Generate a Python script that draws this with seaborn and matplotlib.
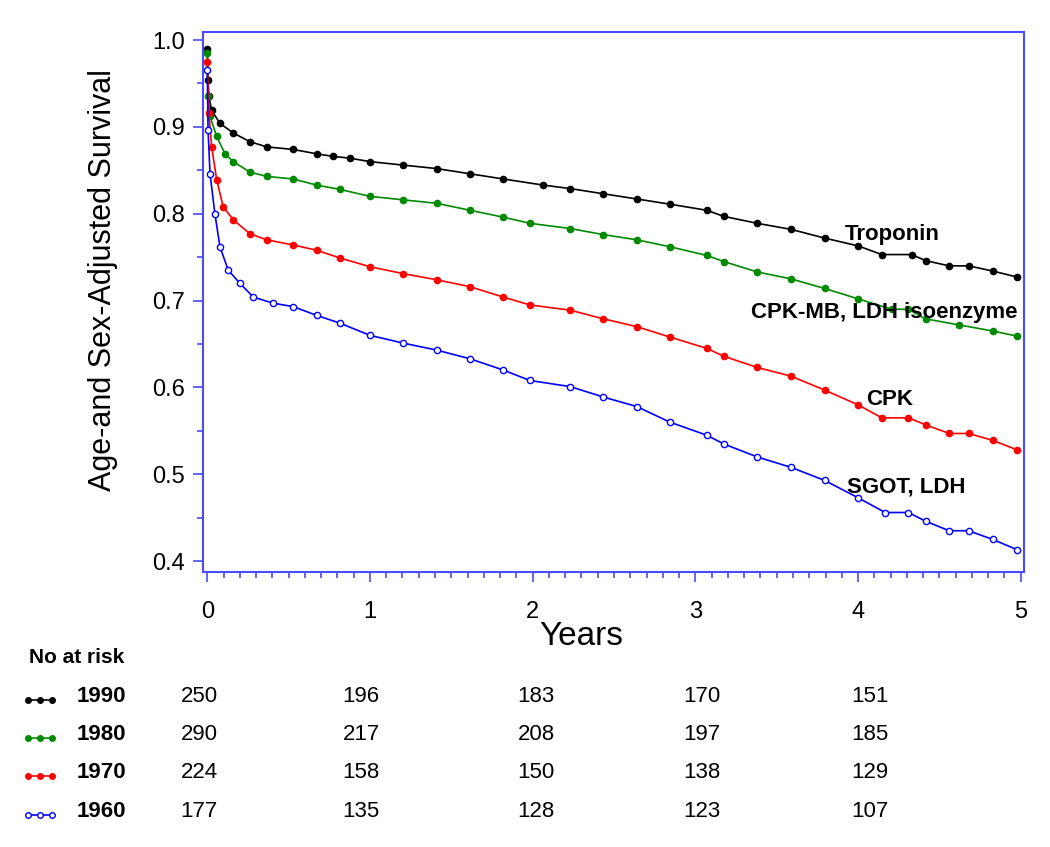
import numpy as np
import pandas as pd
import seaborn as sns
import matplotlib.pyplot as plt
from matplotlib.lines import Line2D
from matplotlib.ticker import MultipleLocator

# survival (years, survival)
t_1990 = [0, 0.005, 0.01, 0.027, 0.078, 0.16, 0.262, 0.365, 0.529, 0.672, 0.774, 0.877, 1.0, 1.205, 1.41, 1.615, 1.82,
          2.065, 2.23, 2.434, 2.64, 2.844, 3.07, 3.174, 3.38, 3.588, 3.794, 4.0, 4.146, 4.33, 4.415, 4.56, 4.68, 4.828, 4.98]
s_1990 = [0.990, 0.954, 0.935, 0.919, 0.904, 0.893, 0.883, 0.877, 0.874, 0.869, 0.866, 0.864, 0.860, 0.856, 0.852, 0.846, 0.840,
          0.833, 0.829, 0.823, 0.817, 0.811, 0.804, 0.797, 0.789, 0.782, 0.772, 0.763, 0.753, 0.753, 0.746, 0.740, 0.740, 0.734, 0.727]

t_1980 = [0, 0.005, 0.017, 0.058, 0.109, 0.16, 0.262, 0.365, 0.529, 0.672, 0.816, 1.0, 1.205, 1.41, 1.615, 1.82, 1.983,
          2.23, 2.434, 2.64, 2.844, 3.07, 3.174, 3.38, 3.588, 3.794, 4.0, 4.208, 4.31, 4.415, 4.62, 4.828, 4.98]
s_1980 = [0.985, 0.935, 0.912, 0.889, 0.869, 0.860, 0.848, 0.843, 0.840, 0.833, 0.828, 0.820, 0.816, 0.812, 0.804, 0.796, 0.789,
          0.783, 0.776, 0.770, 0.762, 0.752, 0.745, 0.733, 0.725, 0.714, 0.702, 0.690, 0.690, 0.679, 0.672, 0.665, 0.659]

t_1970 = [0, 0.01, 0.027, 0.058, 0.098, 0.16, 0.262, 0.365, 0.529, 0.672, 0.816, 1.0, 1.205, 1.41, 1.615, 1.82, 1.983,
          2.23, 2.434, 2.64, 2.844, 3.07, 3.174, 3.38, 3.588, 3.794, 4.0, 4.146, 4.31, 4.415, 4.56, 4.68, 4.828, 4.98]
s_1970 = [0.975, 0.916, 0.877, 0.839, 0.808, 0.793, 0.777, 0.770, 0.764, 0.758, 0.749, 0.739, 0.731, 0.724, 0.716, 0.704, 0.695,
          0.689, 0.679, 0.670, 0.658, 0.645, 0.636, 0.623, 0.613, 0.597, 0.580, 0.565, 0.565, 0.557, 0.547, 0.547, 0.539, 0.528]

t_1960 = [0, 0.005, 0.017, 0.047, 0.078, 0.129, 0.20, 0.283, 0.406, 0.529, 0.672, 0.816, 1.0, 1.205, 1.41, 1.615, 1.82, 1.983,
          2.23, 2.434, 2.64, 2.844, 3.07, 3.174, 3.38, 3.588, 3.794, 4.0, 4.167, 4.31, 4.415, 4.56, 4.68, 4.828, 4.98]
s_1960 = [0.965, 0.896, 0.846, 0.800, 0.762, 0.735, 0.720, 0.704, 0.697, 0.693, 0.683, 0.674, 0.660, 0.651, 0.643, 0.633, 0.620, 0.608,
          0.601, 0.589, 0.578, 0.560, 0.545, 0.535, 0.520, 0.508, 0.493, 0.473, 0.456, 0.456, 0.446, 0.435, 0.435, 0.425, 0.413]

cohorts = ["1990", "1980", "1970", "1960"]
test_names = ["Troponin", "CPK-MB, LDH isoenzyme", "CPK", "SGOT, LDH"]
colors = ["#000000", "#008a00", "#ff0000", "#0000ff"]

# number at risk at 0..4 years
risk_1990 = [250, 196, 183, 170, 151]
risk_1980 = [290, 217, 208, 197, 185]
risk_1970 = [224, 158, 150, 138, 129]
risk_1960 = [177, 135, 128, 123, 107]

sns.set_theme(style="white")
plt.rcParams["font.family"] = ["Liberation Sans", "DejaVu Sans"]
plt.rcParams["text.color"] = "black"
plt.rcParams["axes.labelcolor"] = "black"

W, H = 1050, 847
fig = plt.figure(figsize=(W / 100, H / 100), dpi=100)
ax = fig.add_axes([202.7 / W, 1 - 572 / H, (1024 - 202.7) / W, (572 - 31.7) / H])

curves = [(t_1990, s_1990), (t_1980, s_1980), (t_1970, s_1970), (t_1960, s_1960)]
for (t, s), c, yr in zip(curves, colors, cohorts):
    face = "white" if yr == "1960" else c
    sns.lineplot(x=t, y=s, ax=ax, color=c, lw=1.2, marker="o", markersize=4.5,
                 markerfacecolor=face, markeredgecolor=c, markeredgewidth=1.0,
                 sort=False, estimator=None)

ax.set_xlim(-0.028, 5.02)
ax.set_ylim(0.3875, 1.0096)
ax.xaxis.set_major_locator(MultipleLocator(1))
ax.xaxis.set_minor_locator(MultipleLocator(0.1))
ax.yaxis.set_major_locator(MultipleLocator(0.1))
ax.yaxis.set_minor_locator(MultipleLocator(0.05))
ax.yaxis.set_major_formatter(plt.FormatStrFormatter("%.1f"))
spine_c = "#4a4aff"
for sp in ax.spines.values():
    sp.set_color(spine_c)
    sp.set_linewidth(1.5)
ax.tick_params(which="both", direction="out", color=spine_c, width=1.2, labelsize=17, labelcolor="black")
ax.tick_params(which="major", length=7)
ax.tick_params(which="minor", length=4)
ax.tick_params(axis="x", which="both", bottom=True, pad=14)
ax.tick_params(axis="y", which="both", left=True, pad=6)
ax.grid(False)

ax.set_xlabel("Years", fontsize=24)
ax.xaxis.set_label_coords(0.461, -0.09)
ax.set_ylabel("Age-and Sex-Adjusted Survival", fontsize=22)
ax.yaxis.set_label_coords(-0.103, 0.54)

label_pos = [(3.92, 0.776), (3.34, 0.686), (4.05, 0.586), (3.93, 0.485)]
for name, (lx, ly) in zip(test_names, label_pos):
    ax.text(lx, ly, name, fontsize=16, fontweight="bold", ha="left", va="center", color="black")

# number at risk table
def fy(py):
    return 1 - py / H

fig.text(29 / W, fy(657), "No at risk", fontsize=15, fontweight="bold", ha="left", va="center")
row_y = [696, 734, 772, 811]
col_x = [199, 361, 536, 702, 870]
risks = [risk_1990, risk_1980, risk_1970, risk_1960]
for yr, c, r, py in zip(cohorts, colors, risks, row_y):
    face = "white" if yr == "1960" else c
    fig.add_artist(Line2D([28 / W, 40 / W, 52 / W], [fy(py + 4)] * 3, color=c, lw=1.2, marker="o",
                          markersize=4, markerfacecolor=face, markeredgecolor=c, transform=fig.transFigure))
    fig.text(77 / W, fy(py), yr, fontsize=16, fontweight="bold", ha="left", va="center")
    for n, px in zip(r, col_x):
        fig.text(px / W, fy(py), str(n), fontsize=16, ha="center", va="center")

fig.savefig("out.png", dpi=100)
